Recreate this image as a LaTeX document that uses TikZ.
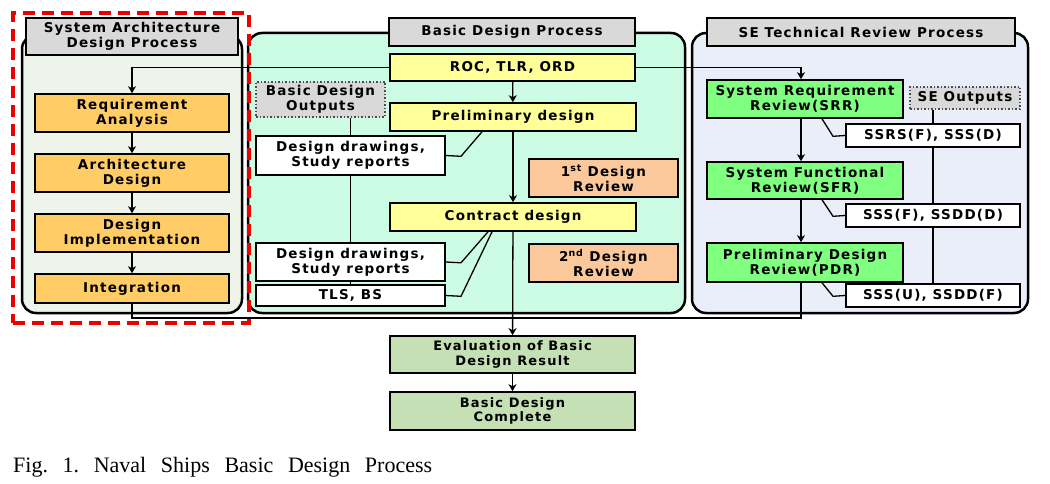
\documentclass[tikz,border=0pt]{standalone}
\usepackage{fontspec}
\setmainfont{Liberation Serif}
\newfontfamily\bxf[LetterSpace=9]{DejaVu Sans}
\usetikzlibrary{arrows.meta,calc}
\pgfdeclarelayer{bg}\pgfdeclarelayer{mid}\pgfsetlayers{bg,mid,main}
\definecolor{lpanel}{RGB}{238,244,234}
\definecolor{mpanel}{RGB}{204,252,228}
\definecolor{rpanel}{RGB}{233,238,248}
\definecolor{tgray}{RGB}{217,217,217}
\definecolor{orng}{RGB}{255,204,102}
\definecolor{yel}{RGB}{255,255,153}
\definecolor{peach}{RGB}{250,200,155}
\definecolor{sgreen}{RGB}{128,255,128}
\definecolor{evgreen}{RGB}{197,224,180}
\definecolor{redd}{RGB}{235,0,0}
\tikzset{
  every node/.style={font=\bxf\bfseries\fontsize{13.5}{14.8}\selectfont, align=center, inner sep=0pt},
  panel/.style={draw=black, line width=2.5pt, rounded corners=14pt},
  bx/.style={draw=black, line width=1.6pt},
  titlebox/.style={bx, fill=tgray, line width=2pt},
  orbox/.style={bx, fill=orng},
  ybox/.style={bx, fill=yel},
  pbox/.style={bx, fill=peach},
  gbox/.style={bx, fill=sgreen},
  ebox/.style={bx, fill=evgreen, font=\bxf\bfseries\fontsize{13}{14.5}\selectfont},
  wbox/.style={bx, fill=white},
  outbox/.style={draw=black!70, dotted, line width=1.5pt, fill=tgray},
  reddash/.style={draw=redd, line width=4.5pt, dash pattern=on 12pt off 7pt},
  conn/.style={line width=1.3pt},
  arr/.style={conn, -{Stealth[length=7pt,width=8pt,inset=2pt]}}
}
\begin{document}
\begin{tikzpicture}[x=1pt,y=-1pt]
\useasboundingbox (0,0) rectangle (1050,484);
\begin{pgfonlayer}{bg}
\node[panel, fill=lpanel, minimum width=220, minimum height=278] (LP) at (132,174) {};
\node[panel, fill=mpanel, minimum width=437, minimum height=280] (MP) at (466.5,173) {};
\node[panel, fill=rpanel, minimum width=336, minimum height=280] (RP) at (860,173) {};
\end{pgfonlayer}
% titles
\node[titlebox, minimum width=212, minimum height=37] (LT) at (132,36.5) {System Architecture\\Design Process};
\node[titlebox, minimum width=246, minimum height=28] (MT) at (512,32) {Basic Design Process};
\node[titlebox, minimum width=308, minimum height=28] (RT) at (861,32) {SE Technical Review Process};
% left column
\node[orbox, minimum width=194, minimum height=38] (RA) at (132,113) {Requirement\\Analysis};
\node[orbox, minimum width=194, minimum height=38] (AD) at (132,173) {Architecture\\Design};
\node[orbox, minimum width=194, minimum height=38] (DI) at (132,233) {Design\\Implementation};
\node[orbox, minimum width=194, minimum height=29] (IN) at (132,288.5) {Integration};
% middle column
\node[ybox, minimum width=245, minimum height=27] (ROC) at (512.5,67.5) {ROC, TLR, ORD};
\node[ybox, minimum width=246, minimum height=28] (PD) at (513,117) {Preliminary design};
\node[ybox, minimum width=246, minimum height=28] (CD) at (513,217) {Contract design};
\node[outbox, minimum width=129, minimum height=35] (BDO) at (320.5,99.5) {Basic Design\\Outputs};
\node[wbox, minimum width=189, minimum height=39] (DD1) at (350.5,155.5) {Design drawings,\\Study reports};
\node[wbox, minimum width=189, minimum height=38] (DD2) at (350.5,262) {Design drawings,\\Study reports};
\node[wbox, minimum width=189, minimum height=21] (TLS) at (350.5,295.5) {TLS, BS};
\node[pbox, minimum width=149, minimum height=38] (R1) at (603.5,178) {1\textsuperscript{st} Design\\Review};
\node[pbox, minimum width=149, minimum height=38] (R2) at (603.5,263) {2\textsuperscript{nd} Design\\Review};
% right column
\node[gbox, minimum width=196, minimum height=38] (SRR) at (805,99) {System Requirement\\Review(SRR)};
\node[gbox, minimum width=196, minimum height=37] (SFR) at (805,180.5) {System Functional\\Review(SFR)};
\node[gbox, minimum width=196, minimum height=39] (PDR) at (805,262.5) {Preliminary Design\\Review(PDR)};
\node[outbox, minimum width=110, minimum height=22] (SEO) at (965,98) {SE Outputs};
\node[wbox, minimum width=174, minimum height=23] (S1) at (933,135.5) {SSRS(F), SSS(D)};
\node[wbox, minimum width=174, minimum height=23] (S2) at (933,215.5) {SSS(F), SSDD(D)};
\node[wbox, minimum width=174, minimum height=23] (S3) at (933,295.5) {SSS(U), SSDD(F)};
% bottom
\node[ebox, minimum width=245, minimum height=37] (EV) at (512.5,354.5) {Evaluation of Basic\\Design Result};
\node[ebox, minimum width=245, minimum height=38] (BDC) at (512.5,411) {Basic Design\\Complete};
% caption
\node[anchor=base west, font=\rmfamily\mdseries\fontsize{22}{25}\selectfont] (CAP) at (13,472) {\frenchspacing\makebox[419pt][s]{Fig. 1. Naval Ships Basic Design Process}};
% connectors behind boxes
\begin{pgfonlayer}{mid}
\draw[conn] (BDO.south -| DD1.north) -- (TLS.north);
\draw[conn] (SEO.south -| S1.north) -- (S3.north);
\end{pgfonlayer}
% flow connectors
\draw[arr] (ROC.west) -| (RA.north);
\draw[arr] (ROC.east) -| ([xshift=-4pt]SRR.north);
\draw[arr] (RA) -- (AD);
\draw[arr] (AD) -- (DI);
\draw[arr] (DI) -- (IN);
\draw[arr] (ROC) -- (PD);
\draw[arr] (PD) -- (CD);
\draw[arr] ([xshift=-4pt]SRR.south) -- ([xshift=-4pt]SFR.north);
\draw[arr] ([xshift=-4pt]SFR.south) -- ([xshift=-4pt]PDR.north);
\coordinate (botL) at (132,318);
\coordinate (botR) at (801,318);
\draw[conn] (IN.south) -- (botL) -- (botR) -- ([xshift=-4pt]PDR.south);
\draw[arr] (CD) -- (EV);
\draw[arr] (EV) -- (BDC);
% output connectors
\draw[conn] ([xshift=-31pt]PD.south) -- ++(-21,24.5) -- (DD1.east);
\draw[conn] ([xshift=-25pt]CD.south) -- ++(-27,31) -- (DD2.east);
\draw[conn] ([xshift=-21pt]CD.south) -- ++(-31,64.5) -- (TLS.east);
\draw[conn] ([xshift=17pt]SRR.south) -- ++(11,17.5) -- (S1.west);
\draw[conn] ([xshift=17pt]SFR.south) -- ++(11,16.5) -- (S2.west);
\draw[conn] ([xshift=17pt]PDR.south) -- ++(11,13.5) -- (S3.west);
% red highlight
\node[reddash, minimum width=236, minimum height=310] (RED) at (131,168) {};
\end{tikzpicture}
\end{document}
